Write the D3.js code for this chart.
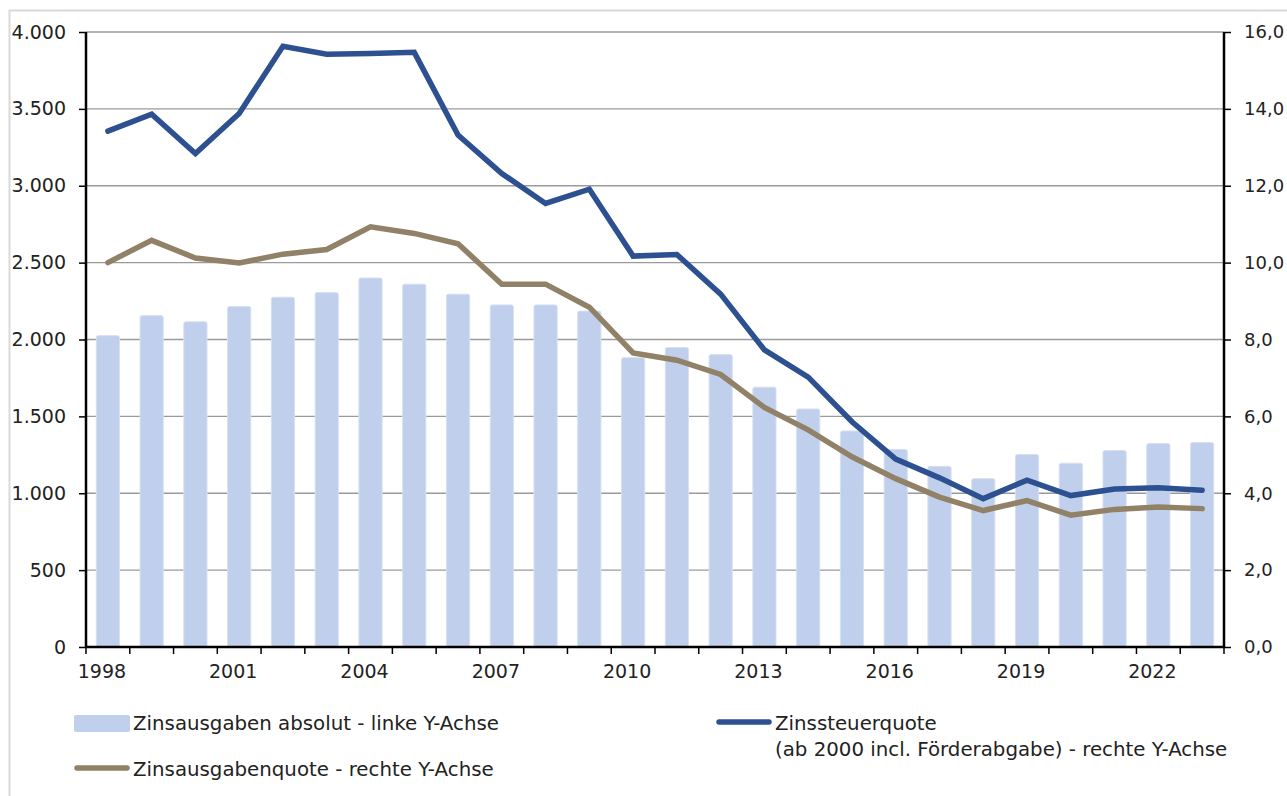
<!DOCTYPE html>
<html>
<head>
<meta charset="utf-8">
<script src="https://cdn.jsdelivr.net/npm/d3@7"></script>
<style>
  body { margin: 0; background: #fff; }
  text { font-family: "DejaVu Sans", sans-serif; fill: #222; }
</style>
</head>
<body>
<div class="chart"></div>
<script>
var svgWidth = 1287;
var svgHeight = 796;

var margin = { top: 32, right: 63, bottom: 149, left: 86 };
var width = svgWidth - margin.left - margin.right;
var height = svgHeight - margin.top - margin.bottom;

// data
var years = [1998, 1999, 2000, 2001, 2002, 2003, 2004, 2005, 2006, 2007, 2008, 2009, 2010,
  2011, 2012, 2013, 2014, 2015, 2016, 2017, 2018, 2019, 2020, 2021, 2022, 2023];
var zinsausgaben = [2025, 2155, 2115, 2215, 2275, 2305, 2400, 2360, 2295, 2225, 2225, 2185, 1882,
  1948, 1902, 1690, 1548, 1405, 1285, 1175, 1095, 1252, 1195, 1278, 1323, 1330];
var zinssteuerquote = [13.42, 13.86, 12.84, 13.88, 15.63, 15.42, 15.44, 15.47, 13.32, 12.32, 11.54, 11.91, 10.17,
  10.21, 9.18, 7.73, 7.02, 5.86, 4.89, 4.40, 3.86, 4.34, 3.94, 4.11, 4.14, 4.08];
var zinsausgabenquote = [10.0, 10.58, 10.12, 9.99, 10.22, 10.34, 10.93, 10.76, 10.49, 9.44, 9.44, 8.84, 7.65,
  7.46, 7.09, 6.23, 5.65, 4.95, 4.38, 3.90, 3.55, 3.81, 3.43, 3.58, 3.64, 3.60];
var leftTicks = [0, 500, 1000, 1500, 2000, 2500, 3000, 3500, 4000];
var rightTicks = [0, 2, 4, 6, 8, 10, 12, 14, 16];
var yearLabels = [1998, 2001, 2004, 2007, 2010, 2013, 2016, 2019, 2022];

var svg = d3.select(".chart")
  .append("svg")
  .attr("width", svgWidth)
  .attr("height", svgHeight);

// light frame round the whole chart
svg.append("rect")
  .attr("x", 9.5)
  .attr("y", 10.5)
  .attr("width", 1300)
  .attr("height", 800)
  .attr("fill", "none")
  .attr("stroke", "#d9d9d9")
  .attr("stroke-width", 2);

var chartGroup = svg.append("g")
  .attr("transform", `translate(${margin.left}, ${margin.top})`);

// scales
var slot = d3.scaleBand().domain(years).range([0, width]).padding(0);
var xBand = d3.scaleBand().domain(years).range([0, width])
  .paddingInner(0.47).paddingOuter(0.235);
var yLeft = d3.scaleLinear().domain([0, 4000]).range([height, 0]);
var yRight = d3.scaleLinear().domain([0, 16]).range([height, 0]);

var de = d3.formatLocale({ decimal: ",", thousands: ".", grouping: [3], currency: ["", "€"] });
var fmtLeft = de.format(",.0f");
var fmtRight = de.format(",.1f");

// gridlines
chartGroup.append("g")
  .selectAll("line")
  .data(leftTicks.slice(1))
  .enter()
  .append("line")
  .attr("x1", 0)
  .attr("x2", width)
  .attr("y1", d => yLeft(d))
  .attr("y2", d => yLeft(d))
  .attr("stroke", "#9a9a9a")
  .attr("stroke-width", 1.3);

// bars
chartGroup.append("g")
  .selectAll("rect")
  .data(years)
  .enter()
  .append("rect")
  .attr("x", d => xBand(d))
  .attr("y", (d, i) => yLeft(zinsausgaben[i]))
  .attr("width", xBand.bandwidth())
  .attr("height", (d, i) => height - yLeft(zinsausgaben[i]))
  .attr("rx", 2)
  .attr("fill", "#c0cfeb")
  .attr("stroke", "#d6e0f3")
  .attr("stroke-width", 1);

// lines
var center = d => slot(d) + slot.bandwidth() / 2;

var lineBrown = d3.line()
  .x(d => center(d))
  .y((d, i) => yRight(zinsausgabenquote[i]));

var lineBlue = d3.line()
  .x(d => center(d))
  .y((d, i) => yRight(zinssteuerquote[i]));

chartGroup.append("path")
  .attr("d", lineBrown(years))
  .attr("fill", "none")
  .attr("stroke", "#908167")
  .attr("stroke-width", 5.5)
  .attr("stroke-linecap", "round");

chartGroup.append("path")
  .attr("d", lineBlue(years))
  .attr("fill", "none")
  .attr("stroke", "#2d5090")
  .attr("stroke-width", 5.5)
  .attr("stroke-linecap", "round");

// left axis
var leftAxis = d3.axisLeft(yLeft)
  .tickValues(leftTicks)
  .tickFormat(fmtLeft)
  .tickSize(7)
  .tickPadding(13);

var yAxisL = chartGroup.append("g").call(leftAxis);

// right axis
var rightAxis = d3.axisRight(yRight)
  .tickValues(rightTicks)
  .tickFormat(fmtRight)
  .tickSize(7)
  .tickPadding(13);

var yAxisR = chartGroup.append("g")
  .attr("transform", `translate(${width}, 0)`)
  .call(rightAxis);

// bottom axis: ticks between the years, labels every third year
var bottomAxis = d3.axisBottom(slot)
  .tickValues(yearLabels)
  .tickSize(0)
  .tickPadding(18);

var xAxis = chartGroup.append("g")
  .attr("transform", `translate(0, ${height})`)
  .call(bottomAxis);

xAxis.selectAll("text").attr("dx", -6);

var bounds = years.map(d => slot(d)).concat([width]);
xAxis.append("g")
  .selectAll("line")
  .data(bounds)
  .enter()
  .append("line")
  .attr("x1", d => d)
  .attr("x2", d => d)
  .attr("y1", 0)
  .attr("y2", 7)
  .attr("stroke", "#000")
  .attr("stroke-width", 1.5);

[yAxisL, yAxisR, xAxis].forEach(function (a) {
  a.select(".domain").attr("stroke", "#000").attr("stroke-width", 2.5);
  a.selectAll(".tick line").attr("stroke", "#000").attr("stroke-width", 1.5);
  a.selectAll("text").style("font-size", "19px").attr("fill", "#222");
});
yAxisR.selectAll("text").style("font-size", "18px");
yAxisL.select(".domain").attr("d", `M0,${height}V0`);
yAxisR.select(".domain").attr("d", `M0,${height}V0`);
xAxis.select(".domain").attr("d", `M0,0H${width}`);

// legend
var legend = svg.append("g").style("font-size", "19.8px");

legend.append("rect")
  .attr("x", 74).attr("y", 715)
  .attr("width", 56).attr("height", 17)
  .attr("rx", 2)
  .attr("fill", "#c0cfeb");
legend.append("text").attr("x", 133).attr("y", 730)
  .text("Zinsausgaben absolut - linke Y-Achse");

legend.append("line")
  .attr("x1", 77).attr("x2", 127)
  .attr("y1", 768).attr("y2", 768)
  .attr("stroke", "#908167").attr("stroke-width", 5.5)
  .attr("stroke-linecap", "round");
legend.append("text").attr("x", 133).attr("y", 776)
  .text("Zinsausgabenquote - rechte Y-Achse");

legend.append("line")
  .attr("x1", 719).attr("x2", 769)
  .attr("y1", 722).attr("y2", 722)
  .attr("stroke", "#2d5090").attr("stroke-width", 5.5)
  .attr("stroke-linecap", "round");
legend.append("text").attr("x", 775).attr("y", 730)
  .text("Zinssteuerquote");
legend.append("text").attr("x", 775).attr("y", 756)
  .text("(ab 2000 incl. Förderabgabe) - rechte Y-Achse");
</script>
</body>
</html>
